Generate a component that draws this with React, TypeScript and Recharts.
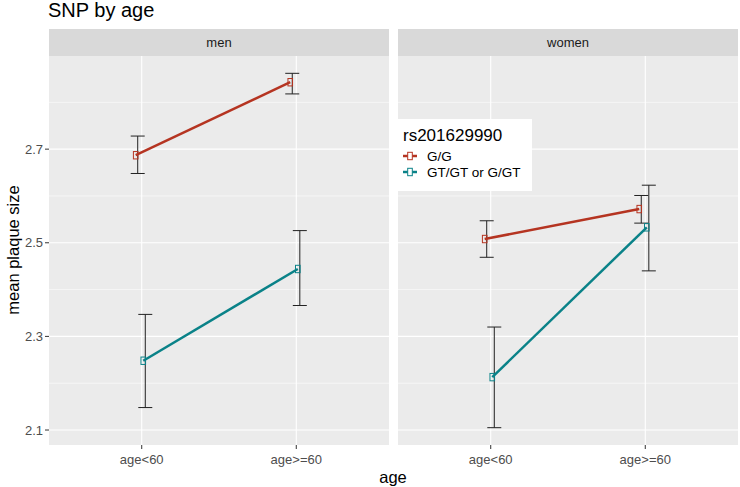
import React from "react";
import {
  ComposedChart,
  Line,
  Scatter,
  ErrorBar,
  XAxis,
  YAxis,
  CartesianGrid,
  ReferenceLine,
} from "recharts";

const CATEGORIES = ["age<60", "age>=60"];
const GROUPS = ["G/G", "GT/GT or G/GT"];
const COLORS = ["#B53421", "#0A8288"];

const MEN_GG = [2.687, 2.843];
const MEN_GG_LO = [2.648, 2.818];
const MEN_GG_HI = [2.728, 2.862];
const MEN_GT = [2.248, 2.444];
const MEN_GT_LO = [2.148, 2.366];
const MEN_GT_HI = [2.347, 2.526];

const WOMEN_GG = [2.508, 2.572];
const WOMEN_GG_LO = [2.469, 2.542];
const WOMEN_GG_HI = [2.547, 2.601];
const WOMEN_GT = [2.213, 2.533];
const WOMEN_GT_LO = [2.105, 2.44];
const WOMEN_GT_HI = [2.32, 2.623];

const Y_TICKS = [2.1, 2.3, 2.5, 2.7];
const Y_MINOR = [2.2, 2.4, 2.6, 2.8];
const Y_DOMAIN = [2.068, 2.899];

// dodge offsets in category units (points / error bars)
const POINT_DODGE = [-0.039, 0.01];
const ERR_DODGE = [-0.026, 0.023];

const FONT = "'Liberation Sans', Arial, Helvetica, sans-serif";

const seriesPoints = (vals: number[], g: number) =>
  vals.map((v, i) => ({ x: i + 1 + POINT_DODGE[g], y: v }));

const seriesErrors = (vals: number[], lo: number[], hi: number[], g: number) =>
  vals.map((v, i) => ({ x: i + 1 + ERR_DODGE[g], y: v, err: [v - lo[i], hi[i] - v] }));

const squareDot = (color: string) => (props: any) => {
  const { cx, cy, index } = props;
  return (
    <rect
      key={`dot-${index}`}
      x={cx - 2.3}
      y={cy - 3.7}
      width={4.6}
      height={7.4}
      fill="none"
      stroke={color}
      strokeWidth={1}
    />
  );
};

const noShape = () => <g />;

interface PanelProps {
  gg: number[];
  ggLo: number[];
  ggHi: number[];
  gt: number[];
  gtLo: number[];
  gtHi: number[];
  showY: boolean;
}

function Panel({ gg, ggLo, ggHi, gt, gtLo, gtHi, showY }: PanelProps) {
  const tickStyle = { fontSize: 13, fill: "#4D4D4D", fontFamily: FONT };
  return (
    <ComposedChart
      width={showY ? 390 : 341}
      height={430}
      margin={{ top: 0, right: 1, bottom: 0, left: 0 }}
    >
      <CartesianGrid horizontal={false} vertical={false} fill="#EBEBEB" />
      <XAxis
        type="number"
        dataKey="x"
        domain={[0.4, 2.6]}
        ticks={[1, 2]}
        tickFormatter={(v: number) => CATEGORIES[Math.round(v) - 1]}
        tick={tickStyle}
        tickLine={{ stroke: "#333333" }}
        tickSize={4}
        tickMargin={6}
        axisLine={false}
        height={41}
        allowDataOverflow
      />
      <YAxis
        type="number"
        domain={Y_DOMAIN}
        ticks={Y_TICKS}
        tick={tickStyle}
        tickLine={{ stroke: "#333333" }}
        tickSize={4}
        tickMargin={2}
        axisLine={false}
        width={49}
        hide={!showY}
        allowDataOverflow
      />
      {Y_MINOR.map((v) => (
        <ReferenceLine key={`mn-${v}`} y={v} stroke="#FFFFFF" strokeWidth={0.55} />
      ))}
      {Y_TICKS.map((v) => (
        <ReferenceLine key={`mj-${v}`} y={v} stroke="#FFFFFF" strokeWidth={1.1} />
      ))}
      {[1, 2].map((v) => (
        <ReferenceLine key={`vx-${v}`} x={v} stroke="#FFFFFF" strokeWidth={1.1} />
      ))}
      <Scatter
        data={seriesErrors(gg, ggLo, ggHi, 0)}
        dataKey="y"
        shape={noShape}
        isAnimationActive={false}
      >
        <ErrorBar dataKey="err" direction="y" width={7} stroke="#222222" strokeWidth={1} />
      </Scatter>
      <Scatter
        data={seriesErrors(gt, gtLo, gtHi, 1)}
        dataKey="y"
        shape={noShape}
        isAnimationActive={false}
      >
        <ErrorBar dataKey="err" direction="y" width={7} stroke="#222222" strokeWidth={1} />
      </Scatter>
      <Line
        data={seriesPoints(gg, 0)}
        dataKey="y"
        stroke={COLORS[0]}
        strokeWidth={2.5}
        dot={squareDot(COLORS[0])}
        activeDot={false}
        isAnimationActive={false}
      />
      <Line
        data={seriesPoints(gt, 1)}
        dataKey="y"
        stroke={COLORS[1]}
        strokeWidth={2.5}
        dot={squareDot(COLORS[1])}
        activeDot={false}
        isAnimationActive={false}
      />
    </ComposedChart>
  );
}

function LegendKey({ color }: { color: string }) {
  return (
    <svg width={14} height={12} style={{ display: "block" }}>
      <line x1={0} y1={6} x2={14} y2={6} stroke={color} strokeWidth={2.5} />
      <rect x={4.7} y={2.3} width={4.6} height={7.4} fill="#FFFFFF" stroke={color} strokeWidth={1} />
    </svg>
  );
}

const stripStyle: React.CSSProperties = {
  position: "absolute",
  top: 29,
  height: 27,
  background: "#D9D9D9",
  color: "#1A1A1A",
  fontSize: 13,
  display: "flex",
  alignItems: "center",
  justifyContent: "center",
};

export default function App() {
  return (
    <div
      style={{
        position: "absolute",
        left: 0,
        top: 0,
        width: 740,
        height: 487,
        background: "#FFFFFF",
        fontFamily: FONT,
        overflow: "hidden",
      }}
    >
      <div
        style={{
          position: "absolute",
          left: 48,
          top: 0,
          fontSize: 20,
          lineHeight: "20px",
          color: "#000",
          whiteSpace: "nowrap",
        }}
      >
        SNP by age
      </div>
      <div style={{ ...stripStyle, left: 49, width: 340 }}>men</div>
      <div style={{ ...stripStyle, left: 398, width: 340 }}>women</div>

      <div style={{ position: "absolute", left: 0, top: 56 }}>
        <Panel gg={MEN_GG} ggLo={MEN_GG_LO} ggHi={MEN_GG_HI} gt={MEN_GT} gtLo={MEN_GT_LO} gtHi={MEN_GT_HI} showY />
      </div>
      <div style={{ position: "absolute", left: 398, top: 56 }}>
        <Panel
          gg={WOMEN_GG}
          ggLo={WOMEN_GG_LO}
          ggHi={WOMEN_GG_HI}
          gt={WOMEN_GT}
          gtLo={WOMEN_GT_LO}
          gtHi={WOMEN_GT_HI}
          showY={false}
        />
      </div>

      <div
        style={{
          position: "absolute",
          left: 13,
          top: 250,
          transform: "translate(-50%, -50%) rotate(-90deg)",
          fontSize: 16.5,
          whiteSpace: "nowrap",
          color: "#000",
        }}
      >
        mean plaque size
      </div>
      <div
        style={{
          position: "absolute",
          left: 393,
          top: 477,
          transform: "translate(-50%, -50%)",
          fontSize: 16.5,
          color: "#000",
        }}
      >
        age
      </div>

      <div
        style={{
          position: "absolute",
          left: 398,
          top: 119,
          width: 134,
          height: 72,
          background: "#FFFFFF",
          boxSizing: "border-box",
          padding: "7px 0 0 5px",
          zIndex: 2,
        }}
      >
        <div style={{ fontSize: 17, color: "#000", lineHeight: "19px", marginBottom: 3 }}>rs201629990</div>
        {GROUPS.map((g, i) => (
          <div key={g} style={{ display: "flex", alignItems: "center", height: 16 }}>
            <LegendKey color={COLORS[i]} />
            <span style={{ marginLeft: 10, fontSize: 13.5, color: "#000", whiteSpace: "nowrap" }}>{g}</span>
          </div>
        ))}
      </div>
    </div>
  );
}
